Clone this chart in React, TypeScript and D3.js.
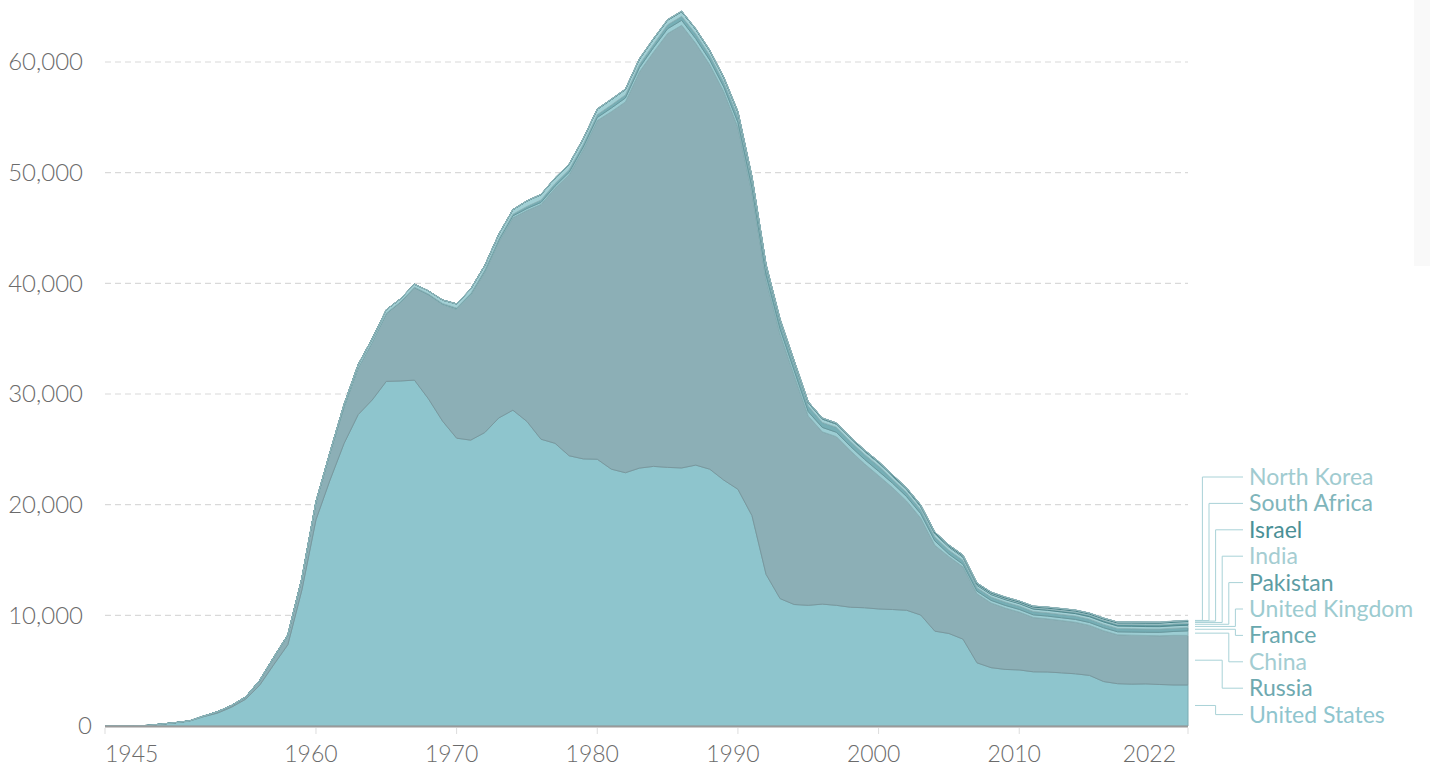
import React, { useEffect, useRef } from 'react';
import * as d3 from 'd3';

const years = d3.range(1945, 2023);

const countries = ['United States', 'Russia', 'China', 'France', 'United Kingdom', 'Pakistan', 'India', 'Israel', 'South Africa', 'North Korea'];

const unitedStates = [2, 9, 13, 50, 170, 299, 438, 841, 1169, 1703, 2422, 3692, 5543, 7345, 12298, 18638, 22229, 25540, 28133, 29463, 31139, 31175, 31255, 29561, 27552, 26008, 25830, 26516, 27835, 28537, 27519, 25914, 25542, 24418, 24138, 24104, 23208, 22886, 23305, 23459, 23368, 23317, 23575, 23205, 22217, 21392, 19008, 13708, 11511, 10979, 10904, 11011, 10903, 10732, 10685, 10577, 10526, 10457, 10027, 8570, 8360, 7853, 5709, 5273, 5113, 5066, 4897, 4881, 4804, 4717, 4571, 4018, 3822, 3785, 3805, 3750, 3708, 3708];

const russia = [0, 0, 0, 0, 1, 5, 25, 50, 120, 150, 200, 426, 660, 869, 1060, 1605, 2471, 3322, 4238, 5221, 6129, 7089, 8339, 9399, 10538, 11643, 13092, 14478, 15915, 17385, 19055, 21205, 23044, 25393, 27935, 30600, 32300, 33500, 35804, 37431, 39197, 40000, 38107, 36538, 35078, 32700, 29154, 26600, 23900, 20700, 17100, 15567, 15239, 14133, 13004, 12045, 11004, 9861, 8749, 7754, 6939, 6529, 6237, 5841, 5544, 5229, 4906, 4800, 4726, 4653, 4519, 4592, 4418, 4425, 4375, 4395, 4486, 4477];

const china = [0, 0, 0, 0, 0, 0, 0, 0, 0, 0, 0, 0, 0, 0, 0, 0, 0, 0, 0, 1, 5, 20, 25, 35, 50, 75, 100, 130, 150, 170, 185, 190, 200, 220, 235, 280, 330, 360, 380, 415, 437, 451, 430, 430, 430, 430, 435, 435, 435, 435, 400, 400, 400, 400, 400, 400, 400, 400, 400, 400, 235, 235, 235, 235, 240, 240, 240, 250, 250, 260, 260, 270, 270, 280, 290, 320, 350, 410];

const france = [0, 0, 0, 0, 0, 0, 0, 0, 0, 0, 0, 0, 0, 0, 0, 0, 0, 0, 0, 4, 32, 36, 36, 36, 36, 36, 45, 70, 116, 145, 188, 212, 228, 235, 235, 250, 274, 274, 279, 280, 360, 355, 420, 411, 412, 505, 540, 540, 525, 510, 500, 450, 450, 450, 450, 470, 350, 350, 350, 350, 350, 350, 300, 300, 300, 300, 300, 300, 300, 300, 300, 300, 300, 300, 290, 290, 290, 290];

const unitedKingdom = [0, 0, 0, 0, 0, 0, 0, 0, 1, 5, 10, 15, 20, 22, 25, 30, 50, 205, 280, 310, 310, 270, 270, 280, 308, 375, 410, 410, 410, 410, 492, 492, 492, 492, 492, 492, 492, 492, 492, 492, 422, 422, 422, 422, 422, 422, 422, 350, 300, 300, 300, 300, 280, 281, 281, 281, 281, 281, 281, 281, 281, 281, 225, 225, 225, 225, 225, 225, 225, 225, 225, 225, 225, 225, 225, 225, 225, 225];

const pakistan = [0, 0, 0, 0, 0, 0, 0, 0, 0, 0, 0, 0, 0, 0, 0, 0, 0, 0, 0, 0, 0, 0, 0, 0, 0, 0, 0, 0, 0, 0, 0, 0, 0, 0, 0, 0, 0, 0, 0, 0, 0, 0, 0, 0, 0, 5, 7, 9, 11, 13, 15, 17, 19, 21, 23, 25, 30, 35, 40, 45, 50, 55, 60, 65, 70, 70, 90, 100, 110, 120, 130, 140, 140, 150, 160, 160, 165, 165];

const india = [0, 0, 0, 0, 0, 0, 0, 0, 0, 0, 0, 0, 0, 0, 0, 0, 0, 0, 0, 0, 0, 0, 0, 0, 0, 0, 0, 0, 0, 0, 0, 0, 0, 0, 0, 0, 0, 0, 0, 0, 0, 0, 0, 0, 0, 8, 10, 12, 14, 16, 18, 20, 22, 24, 26, 30, 35, 40, 45, 50, 60, 65, 70, 75, 80, 80, 90, 100, 110, 110, 110, 120, 130, 140, 150, 150, 156, 160];

const israel = [0, 0, 0, 0, 0, 0, 0, 0, 0, 0, 0, 0, 0, 0, 0, 0, 0, 0, 0, 0, 0, 0, 2, 4, 6, 8, 10, 12, 15, 17, 20, 22, 24, 26, 29, 31, 33, 35, 38, 40, 42, 44, 47, 49, 51, 53, 55, 57, 59, 61, 63, 65, 67, 69, 71, 72, 74, 76, 78, 80, 80, 80, 80, 80, 80, 80, 80, 80, 80, 80, 80, 80, 80, 80, 80, 80, 80, 90];

const southAfrica = [0, 0, 0, 0, 0, 0, 0, 0, 0, 0, 0, 0, 0, 0, 0, 0, 0, 0, 0, 0, 0, 0, 0, 0, 0, 0, 0, 0, 0, 0, 0, 0, 0, 0, 0, 1, 1, 2, 3, 3, 4, 5, 6, 6, 6, 6, 0, 0, 0, 0, 0, 0, 0, 0, 0, 0, 0, 0, 0, 0, 0, 0, 0, 0, 0, 0, 0, 0, 0, 0, 0, 0, 0, 0, 0, 0, 0, 0];

const northKorea = [0, 0, 0, 0, 0, 0, 0, 0, 0, 0, 0, 0, 0, 0, 0, 0, 0, 0, 0, 0, 0, 0, 0, 0, 0, 0, 0, 0, 0, 0, 0, 0, 0, 0, 0, 0, 0, 0, 0, 0, 0, 0, 0, 0, 0, 0, 0, 0, 0, 0, 0, 0, 0, 0, 0, 0, 0, 0, 0, 0, 0, 2, 4, 6, 8, 10, 12, 14, 15, 15, 15, 15, 15, 15, 25, 30, 30, 30];

const seriesValues = [unitedStates, russia, china, france, unitedKingdom, pakistan, india, israel, southAfrica, northKorea];

const yTicks = [0, 10000, 20000, 30000, 40000, 50000, 60000];
const xTicks = [1945, 1960, 1970, 1980, 1990, 2000, 2010, 2022];

const fills = ['#8ec5cd', '#8cafb6', '#9ccdd3', '#76aeb5', '#a2d0d5', '#5f9ea5', '#a8d3d8', '#4f9299', '#80b9bf', '#a4d0d5'];
const labelColors = ['#8fc5ce', '#6ea9b0', '#a3cdd2', '#6aa8ae', '#9ccbd0', '#5c9ca3', '#a5cdd2', '#4a9096', '#7fb5bb', '#a0cbd0'];

function App() {
  const ref = useRef(null);

  useEffect(() => {
    const width = 1430;
    const height = 767;
    const margin = { top: 0, right: 242, bottom: 41, left: 105 };

    const svg = d3.select(ref.current);
    svg.selectAll('*').remove();

    const rows = years.map((year, i) => {
      const row: any = { year };
      countries.forEach((c, k) => { row[c] = seriesValues[k][i]; });
      return row;
    });

    const x = d3.scaleLinear()
      .domain([1945, 2022])
      .range([margin.left, width - margin.right]);

    const y = d3.scaleLinear()
      .domain([0, 65600])
      .range([height - margin.bottom, margin.top]);

    // faint panel on the right
    svg.append('rect')
      .attr('x', 1414).attr('y', 0).attr('width', 16).attr('height', 266)
      .attr('fill', '#f9f9f9');

    // gridlines
    svg.append('g')
      .selectAll('line')
      .data(yTicks.filter(d => d > 0))
      .join('line')
      .attr('x1', x(1945))
      .attr('x2', x(2022))
      .attr('y1', d => y(d))
      .attr('y2', d => y(d))
      .attr('stroke', '#d9d9d9')
      .attr('stroke-width', 1.2)
      .attr('stroke-dasharray', '6,4');

    const stacked = d3.stack().keys(countries)(rows);

    const area = d3.area()
      .x((d: any) => x(d.data.year))
      .y0((d: any) => y(d[0]))
      .y1((d: any) => y(d[1]));

    svg.append('g')
      .selectAll('path')
      .data(stacked)
      .join('path')
      .attr('d', (d: any) => area(d))
      .attr('fill', (d, i) => fills[i])
      .attr('stroke', (d, i) => d3.color(fills[i]).darker(0.4).formatHex())
      .attr('stroke-width', 1)
      .attr('stroke-linejoin', 'round');

    // baseline
    svg.append('line')
      .attr('x1', x(1945)).attr('x2', x(2022))
      .attr('y1', y(0) + 0.5).attr('y2', y(0) + 0.5)
      .attr('stroke', '#9a9a9a')
      .attr('stroke-width', 2);

    // x ticks and labels
    const xg = svg.append('g');
    xg.selectAll('line')
      .data(xTicks)
      .join('line')
      .attr('x1', d => x(d)).attr('x2', d => x(d))
      .attr('y1', y(0) + 2).attr('y2', y(0) + 8)
      .attr('stroke', '#dddddd');
    xg.selectAll('text')
      .data(xTicks)
      .join('text')
      .attr('x', (d, i) => i === 0 ? x(d) : i === xTicks.length - 1 ? x(d) - 12 : x(d) - 5)
      .attr('y', 762)
      .attr('text-anchor', (d, i) => i === 0 ? 'start' : i === xTicks.length - 1 ? 'end' : 'middle')
      .attr('font-family', 'Lato, sans-serif')
      .attr('font-weight', 300)
      .attr('font-size', 23)
      .attr('fill', '#6b6b6b')
      .text(d => d);

    // y labels
    svg.append('g')
      .selectAll('text')
      .data(yTicks)
      .join('text')
      .attr('x', d => d === 0 ? 92 : 83)
      .attr('y', d => y(d))
      .attr('dy', '0.35em')
      .attr('text-anchor', 'end')
      .attr('font-family', 'Lato, sans-serif')
      .attr('font-weight', 300)
      .attr('font-size', 24)
      .attr('fill', '#6b6b6b')
      .text(d => d3.format(',')(d));

    // legend with leader lines
    const last = years.length - 1;
    const labelTop = 477;
    const labelStep = 26.4;
    const order = countries.map((c, i) => i).reverse(); // top to bottom
    const items = order.map((k, idx) => {
      const s: any = stacked[k][last];
      return {
        name: countries[k],
        color: labelColors[k],
        anchorY: y((s[0] + s[1]) / 2),
        labelY: labelTop + idx * labelStep,
      };
    });
    const above = items.filter(d => d.labelY < d.anchorY);
    const below = items.filter(d => d.labelY >= d.anchorY);
    const colEnd = 1242;
    const colStep = 6.6;
    above.forEach((d: any, i) => { d.colX = colEnd - colStep * (above.length - i); });
    below.forEach((d: any, j) => { d.colX = colEnd - colStep * (j + 1); });

    const lg = svg.append('g');
    lg.selectAll('path')
      .data(items)
      .join('path')
      .attr('d', (d: any) => `M${x(2022) + 7},${d.anchorY}H${d.colX}V${d.labelY}H${colEnd + 1}`)
      .attr('fill', 'none')
      .attr('stroke', '#a9d2d7')
      .attr('stroke-width', 1);

    lg.selectAll('text')
      .data(items)
      .join('text')
      .attr('x', 1249)
      .attr('y', d => d.labelY)
      .attr('dy', '0.35em')
      .attr('font-family', 'Lato, sans-serif')
      .attr('font-size', 23)
      .attr('fill', d => d.color)
      .text(d => d.name);
  }, []);

  return (
    <svg ref={ref} width={1430} height={767} style={{ position: 'absolute', left: 0, top: 0, background: '#fff' }}></svg>
  );
}

export default App;
